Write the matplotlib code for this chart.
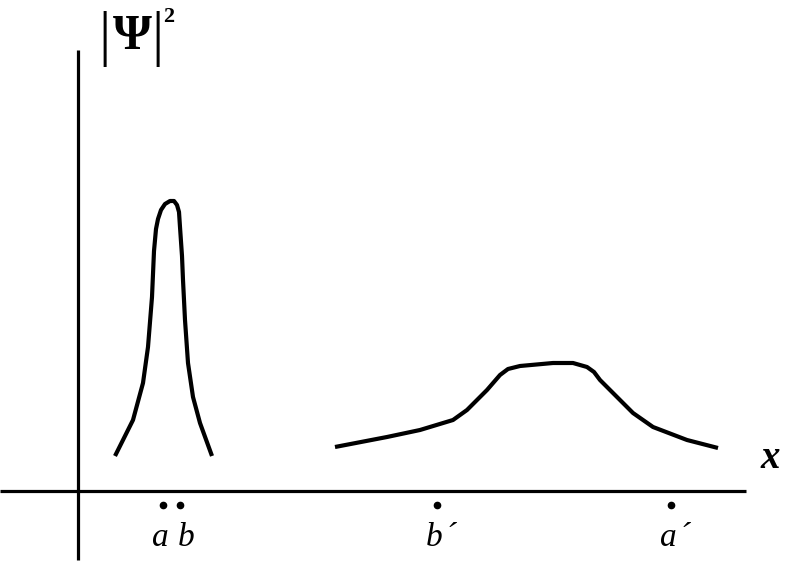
import matplotlib.pyplot as plt

# narrow packet (left)
x1 = [37, 55, 65, 70, 74, 76, 78, 80, 83, 87, 92, 96, 99, 101, 102, 104, 105, 107, 110, 115, 122, 134]
y1 = [35, 71, 108, 144, 194, 240, 262, 272, 281, 287, 290, 290, 286, 279, 264, 235, 211, 171, 128, 94, 68, 35]

# wide packet (right)
x2 = [257, 309, 342, 375, 389, 409, 422, 430, 442, 475, 495, 509, 516, 522, 542, 555, 575, 609, 640]
y2 = [44, 54, 61, 71, 81, 101, 116, 122, 125, 128, 128, 124, 119, 111, 91, 78, 64, 51, 43]

# marked points on the x axis
pt_names = ['a', 'b', 'b\u200a\u00b4', 'a\u200a\u00b4']
pt_x = [85, 102, 359, 593]

fig = plt.figure(figsize=(7.86, 5.64), dpi=100)
ax = fig.add_axes([0, 0, 1, 1])
ax.set_xlim(-78, 708)
ax.set_ylim(-73, 491)
ax.axis('off')

# axes
ax.plot([-78, 668], [0, 0], color='black', lw=2.3, solid_capstyle='butt')
ax.plot([0, 0], [-69, 441], color='black', lw=2.3, solid_capstyle='butt')

ax.plot(x1, y1, color='black', lw=3, solid_joinstyle='round', solid_capstyle='butt')
ax.plot(x2, y2, color='black', lw=3, solid_joinstyle='round', solid_capstyle='butt')

ax.plot(pt_x, [-14] * len(pt_x), 'o', color='black', ms=4.5)

serif = ['Liberation Serif', 'DejaVu Serif']
for name, px in zip(pt_names, pt_x):
    off = {'a': -11, 'b': -2}.get(name, -11)
    ax.text(px + off, -47, name, fontsize=24, style='italic', family=serif,
            ha='left', va='center')

ax.text(692, 32, 'x', fontsize=28, style='italic', weight='bold', family=serif,
        ha='center', va='center')
# |Psi|^2 label, bars drawn apart from the letter
ax.text(26, 452, '|', fontsize=44, family=serif, ha='center', va='center')
ax.text(80, 452, '|', fontsize=44, family=serif, ha='center', va='center')
ax.text(54, 454, '\u03a8', fontsize=36, weight='bold', family=serif,
        ha='center', va='center')
ax.text(91, 474, '2', fontsize=16, weight='bold', family=serif,
        ha='center', va='center')

plt.savefig('out.png', dpi=100)
